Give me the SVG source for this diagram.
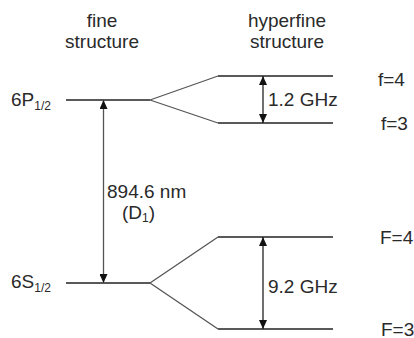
<svg xmlns="http://www.w3.org/2000/svg" width="414" height="338" viewBox="0 0 414 338">
<defs>
<marker id="ah" markerUnits="userSpaceOnUse" markerWidth="9" markerHeight="8" refX="9" refY="4" orient="auto-start-reverse">
<path d="M0,0 L9,4 L0,8 Z" fill="#111"/>
</marker>
<style>
text{font-family:"Liberation Sans",Arial,sans-serif;font-size:19px;fill:#2a2a2a}
.sub{font-size:12px}
.lvl{stroke:#222;stroke-width:1.3;fill:none}
.diag{stroke:#555;stroke-width:1.3;fill:none}
.arr{stroke:#222;stroke-width:1.3;fill:none;marker-start:url(#ah);marker-end:url(#ah)}
.vt{stroke:#555;stroke-width:1.3;fill:none;marker-start:url(#ah);marker-end:url(#ah)}
</style>
</defs>
<g id="headers">
<text x="102" y="27" text-anchor="middle">fine</text>
<text x="102" y="48" text-anchor="middle">structure</text>
<text x="287" y="27" text-anchor="middle">hyperfine</text>
<text x="287" y="48" text-anchor="middle">structure</text>
</g>
<g id="p12">
<text x="11" y="106">6P<tspan class="sub" dy="4">1/2</tspan></text>
<line class="lvl" x1="66" y1="100" x2="150" y2="100"/>
</g>
<g id="s12">
<text x="11" y="288">6S<tspan class="sub" dy="4">1/2</tspan></text>
<line class="lvl" x1="66" y1="283" x2="150" y2="283"/>
</g>
<g id="f4">
<line class="lvl" x1="218" y1="76" x2="333" y2="76"/>
<text x="378" y="86">f=4</text>
</g>
<g id="f3">
<line class="lvl" x1="218" y1="123" x2="333" y2="123"/>
<text x="381" y="130">f=3</text>
</g>
<g id="F4">
<line class="lvl" x1="218" y1="237" x2="333" y2="237"/>
<text x="380" y="244">F=4</text>
</g>
<g id="F3">
<line class="lvl" x1="218" y1="329" x2="333" y2="329"/>
<text x="381" y="336">F=3</text>
</g>
<g id="connectors">
<path class="diag" d="M150,100 L218,76 M150,100 L218,123"/>
<path class="diag" d="M150,283 L218,237 M150,283 L218,329"/>
<line class="vt" x1="103.5" y1="100" x2="103.5" y2="283"/>
<line class="arr" x1="263" y1="76" x2="263" y2="123"/>
<line class="arr" x1="263" y1="237" x2="263" y2="329"/>
</g>
<g id="labels">
<text x="268" y="106">1.2 GHz</text>
<text x="107" y="198">894.6 nm</text>
<text x="122" y="219">(D<tspan class="sub" dy="3">1</tspan><tspan dy="-3">)</tspan></text>
<text x="268" y="293">9.2 GHz</text>
</g>
</svg>
